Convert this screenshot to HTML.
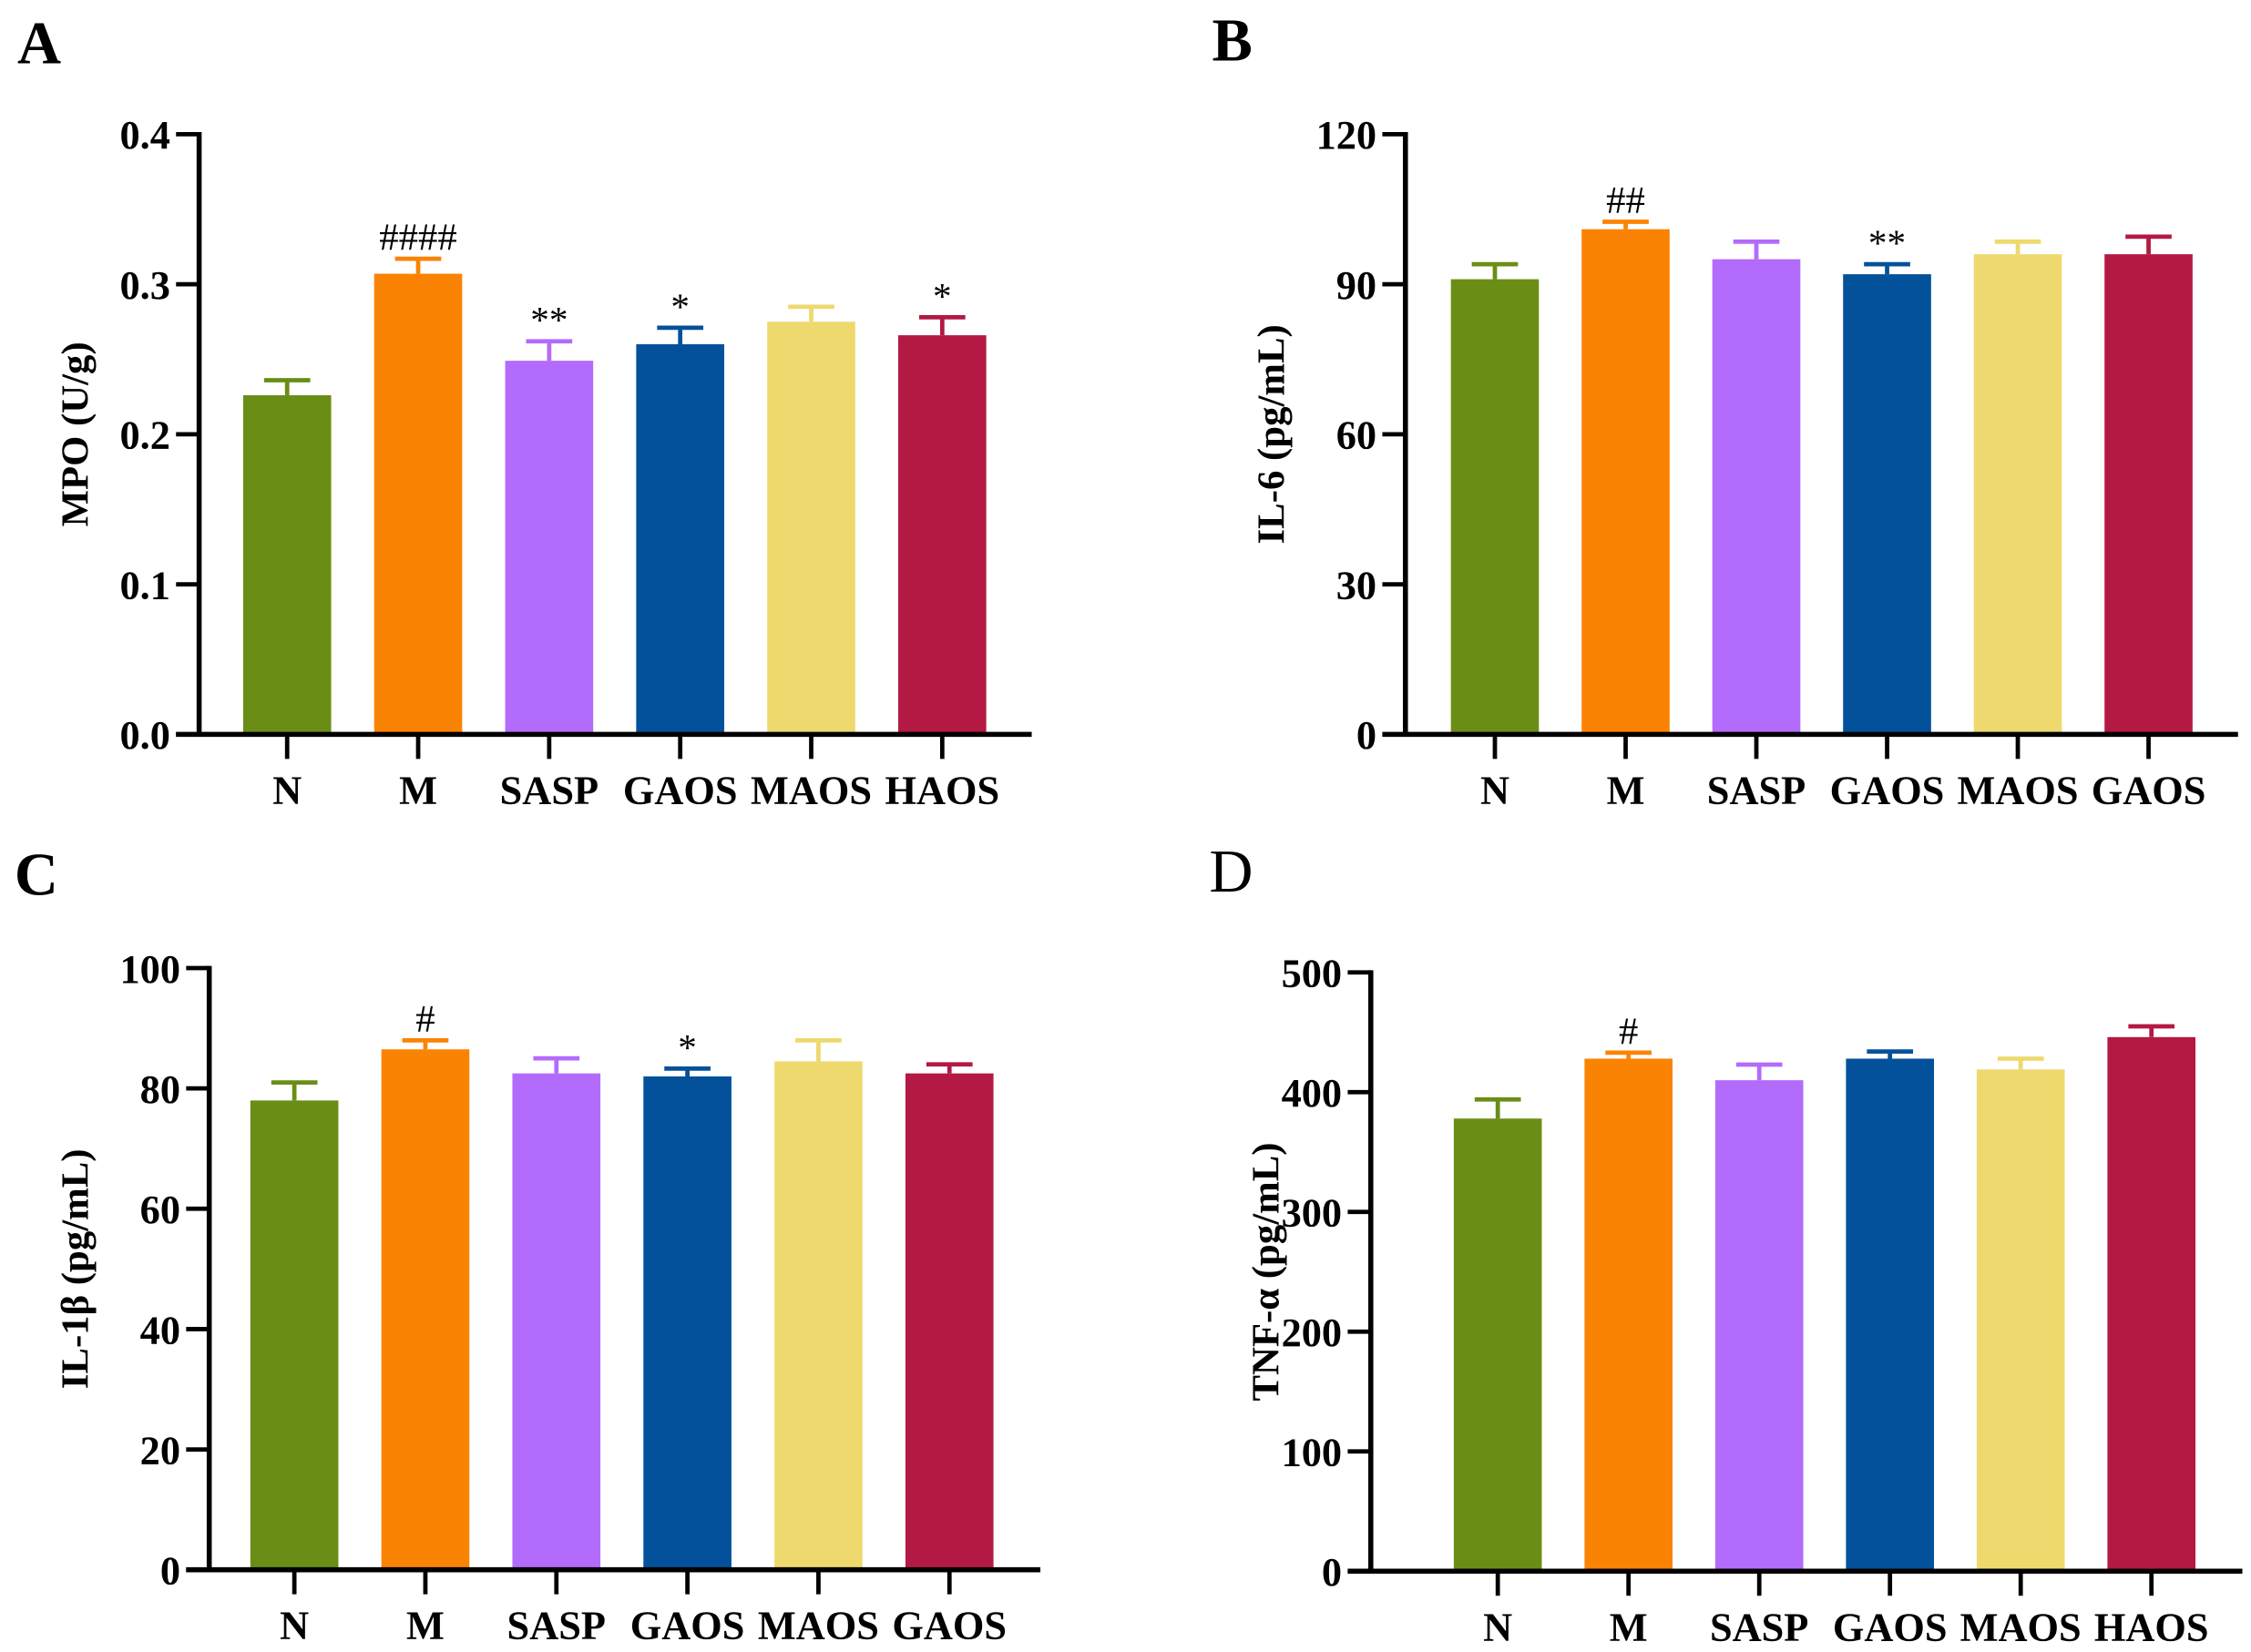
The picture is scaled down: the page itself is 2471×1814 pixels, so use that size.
<!DOCTYPE html>
<html><head><meta charset="utf-8">
<style>
html,body{margin:0;padding:0;background:#fff;}
svg{display:block;}
text{font-family:"Liberation Serif",serif;font-weight:bold;fill:#000;}
</style></head>
<body>
<svg id="fig" width="2471" height="1814" viewBox="0 0 1560 1145" preserveAspectRatio="none" xmlns="http://www.w3.org/2000/svg"></svg>
<script>
const categoriesA = ["N","M","SASP","GAOS","MAOS","HAOS"];
const valuesA = [0.226,0.307,0.249,0.260,0.275,0.266];
const errorsA = [0.010,0.010,0.013,0.011,0.010,0.012];
const ticksA = [0,0.1,0.2,0.3,0.4];
const tickLabelsA = ["0.0","0.1","0.2","0.3","0.4"];
const marksA = ["","####","**","*","","*"];

const categoriesB = ["N","M","SASP","GAOS","MAOS","GAOS"];
const valuesB = [91,101,95,92,96,96];
const errorsB = [3,1.5,3.5,2,2.5,3.5];
const ticksB = [0,30,60,90,120];
const tickLabelsB = ["0","30","60","90","120"];
const marksB = ["","##","","**","",""];

const categoriesC = ["N","M","SASP","GAOS","MAOS","GAOS"];
const valuesC = [78,86.5,82.5,82,84.5,82.5];
const errorsC = [3,1.5,2.5,1.3,3.5,1.5];
const ticksC = [0,20,40,60,80,100];
const tickLabelsC = ["0","20","40","60","80","100"];
const marksC = ["","#","","*","",""];

const categoriesD = ["N","M","SASP","GAOS","MAOS","HAOS"];
const valuesD = [378,428,410,428,419,446];
const errorsD = [16,5,13,6,9,9];
const ticksD = [0,100,200,300,400,500];
const tickLabelsD = ["0","100","200","300","400","500"];
const marksD = ["","#","","","",""];

const colors = ["#6a8e15","#fb8304","#b36bfb","#03519a","#eed96e","#b31942"];
const NS = "http://www.w3.org/2000/svg";
const svg = document.getElementById("fig");
function mk(tag, attrs, parent){const e=document.createElementNS(NS,tag);for(const k in attrs)e.setAttribute(k,attrs[k]);(parent||svg).appendChild(e);return e;}

function panel(id, letter, letterBold, lx, ly, axX, yTop, yBot, xStart, xEnd, firstC, step, yMax, cats, vals, errs, ticks, tlabels, marks, ylabel, ylabX){
  const g = mk("g",{});
  
  
  const y = v => yBot - (v/yMax)*(yBot-yTop);
  const x = i => firstC + i*step;
  const L = mk("text",{x:lx,y:ly,"font-size":42},g); L.textContent=letter;
  if(!letterBold) L.style.fontWeight="normal";
  
  
  const bw = 61;
  vals.forEach((v,i)=>{
    const r = mk("rect",{x:x(i)-bw/2,y:y(v),width:bw,height:yBot-y(v),fill:colors[i]},g);
    
    
    const top = y(v+errs[i]);
    const eb = mk("path",{d:`M${x(i)} ${y(v)} V${top} M${x(i)-16} ${top} H${x(i)+16}`,stroke:colors[i],"stroke-width":3,fill:"none"},g);
    
    
    if(marks[i]){
      const m = mk("text",{x:x(i),y:top-6,"font-size":marks[i].includes("#")?27:26,"text-anchor":"middle"},g);
      m.style.fontWeight="normal";
      m.textContent=marks[i];
      
      
    }
    const t = mk("line",{x1:x(i),x2:x(i),y1:yBot,y2:yBot+17,stroke:"#000","stroke-width":3},g);
    
    
    const tl = mk("text",{x:x(i),y:yBot+48,"font-size":28,"text-anchor":"middle"},g);
    tl.textContent=cats[i];
    
    
  });
  const ya = mk("line",{x1:axX,x2:axX,y1:yTop-1.5,y2:yBot,stroke:"#000","stroke-width":3.5},g);
  
  
  const xa = mk("line",{x1:xStart,x2:xEnd,y1:yBot,y2:yBot,stroke:"#000","stroke-width":3.5},g);
  
  
  ticks.forEach((tv,j)=>{
    const t = mk("line",{x1:axX-16,x2:axX,y1:y(tv),y2:y(tv),stroke:"#000","stroke-width":3},g);
    
    
    const tl = mk("text",{x:axX-20,y:y(tv)+10,"font-size":28,"text-anchor":"end"},g);
    tl.textContent=tlabels[j];
    
    
  });
  const yl = mk("text",{x:0,y:0,"font-size":27,"text-anchor":"middle",transform:`translate(${ylabX},${(yTop+yBot)/2}) rotate(-90)`},g);
  yl.textContent=ylabel;
  
  
}
panel("a","A",true,12,44,138,93,509,122,715,199,90.8,0.4,categoriesA,valuesA,errorsA,ticksA,tickLabelsA,marksA,"MPO (U/g)",61);
panel("b","B",true,840,42,974,93,509,958,1551,1036,90.6,120,categoriesB,valuesB,errorsB,ticksB,tickLabelsB,marksB,"IL-6 (pg/mL)",890);
panel("c","C",true,10,620,145,671,1088,129,721,204,90.8,100,categoriesC,valuesC,errorsC,ticksC,tickLabelsC,marksC,"IL-1β (pg/mL)",61);
panel("d","D",false,838,618,950,674,1089,934,1554,1038,90.6,500,categoriesD,valuesD,errorsD,ticksD,tickLabelsD,marksD,"TNF-α (pg/mL)",886);
</script>
</body></html>
